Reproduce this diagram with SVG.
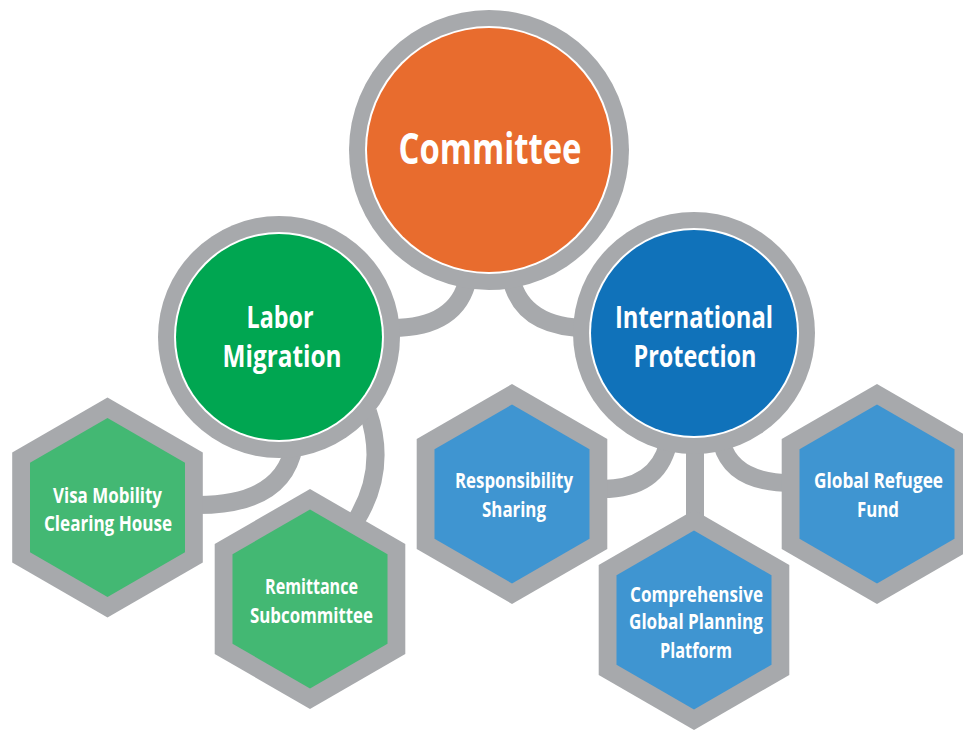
<svg xmlns="http://www.w3.org/2000/svg" width="963" height="731" viewBox="0 0 963 731">
<style>
.ring{fill:#A7A9AC}
.gap{fill:#FFFFFF}
.conn{fill:none;stroke:#A7A9AC;stroke-width:18}
.hexo{fill:#A7A9AC}
.hg{fill:#43B873}
.hb{fill:#3F95D1}
text{font-family:"Open Sans","Liberation Sans",sans-serif;font-weight:700;fill:#FFFFFF;text-anchor:middle}
.big{font-size:43px}
.mid{font-size:30px}
.sm{font-size:22px}
</style>
<defs>
<polygon id="hexOuter" points="0,-110 95.3,-55 95.3,55 0,110 -95.3,55 -95.3,-55"/>
<polygon id="hexInner" points="0,-89.5 77.5,-44.75 77.5,44.75 0,89.5 -77.5,44.75 -77.5,-44.75"/>
</defs>
<rect width="963" height="731" fill="#FFFFFF"/>
<g id="connectors">
<path class="conn" d="M 468 278 Q 458 328 392 328"/>
<path class="conn" d="M 511 278 Q 522 328 588 328"/>
<path class="conn" d="M 294 446 Q 283 505 198 505"/>
<path class="conn" d="M 368 412 Q 388 470 355 522"/>
<path class="conn" d="M 668 444 Q 657 489 602 489"/>
<path class="conn" d="M 695 440 L 695 522"/>
<path class="conn" d="M 722 444 Q 733 483 792 483"/>
</g>
<g id="committee">
<circle class="ring" cx="489" cy="150" r="140"/>
<circle class="gap" cx="489" cy="150" r="124"/>
<circle cx="489" cy="150" r="122" fill="#E86C2E"/>
<text class="big" x="490" y="164" textLength="183" lengthAdjust="spacingAndGlyphs">Committee</text>
</g>
<g id="labor-migration">
<circle class="ring" cx="279" cy="337" r="121"/>
<circle class="gap" cx="279" cy="337" r="105"/>
<circle cx="279" cy="337" r="103" fill="#00A651"/>
<text class="mid" x="280" y="328" textLength="67" lengthAdjust="spacingAndGlyphs">Labor</text>
<text class="mid" x="282" y="367" textLength="119" lengthAdjust="spacingAndGlyphs">Migration</text>
</g>
<g id="international-protection">
<circle class="ring" cx="694" cy="333" r="121"/>
<circle class="gap" cx="694" cy="333" r="105"/>
<circle cx="694" cy="333" r="103" fill="#1072BA"/>
<text class="mid" x="694" y="328" textLength="158" lengthAdjust="spacingAndGlyphs">International</text>
<text class="mid" x="695" y="367" textLength="123" lengthAdjust="spacingAndGlyphs">Protection</text>
</g>
<g id="visa-mobility" transform="translate(107.5,507.5)">
<use href="#hexOuter" class="hexo"/>
<use href="#hexInner" class="hg"/>
<text class="sm" x="0" y="-4.5" textLength="109" lengthAdjust="spacingAndGlyphs">Visa Mobility</text>
<text class="sm" x="0.5" y="23.5" textLength="128" lengthAdjust="spacingAndGlyphs">Clearing House</text>
</g>
<g id="remittance" transform="translate(310,599)">
<use href="#hexOuter" class="hexo"/>
<use href="#hexInner" class="hg"/>
<text class="sm" x="1.5" y="-5" textLength="93" lengthAdjust="spacingAndGlyphs">Remittance</text>
<text class="sm" x="1.5" y="24" textLength="123" lengthAdjust="spacingAndGlyphs">Subcommittee</text>
</g>
<g id="responsibility-sharing" transform="translate(512,494)">
<use href="#hexOuter" class="hexo"/>
<use href="#hexInner" class="hb"/>
<text class="sm" x="2" y="-6" textLength="118" lengthAdjust="spacingAndGlyphs">Responsibility</text>
<text class="sm" x="2" y="23" textLength="64" lengthAdjust="spacingAndGlyphs">Sharing</text>
</g>
<g id="global-planning" transform="translate(694,620)">
<use href="#hexOuter" class="hexo"/>
<use href="#hexInner" class="hb"/>
<text class="sm" x="2.5" y="-18" textLength="133" lengthAdjust="spacingAndGlyphs">Comprehensive</text>
<text class="sm" x="2" y="9" textLength="134" lengthAdjust="spacingAndGlyphs">Global Planning</text>
<text class="sm" x="2" y="38" textLength="72" lengthAdjust="spacingAndGlyphs">Platform</text>
</g>
<g id="global-refugee-fund" transform="translate(877,494)">
<use href="#hexOuter" class="hexo"/>
<use href="#hexInner" class="hb"/>
<text class="sm" x="1.5" y="-6" textLength="129" lengthAdjust="spacingAndGlyphs">Global Refugee</text>
<text class="sm" x="1" y="23" textLength="42" lengthAdjust="spacingAndGlyphs">Fund</text>
</g>
</svg>
